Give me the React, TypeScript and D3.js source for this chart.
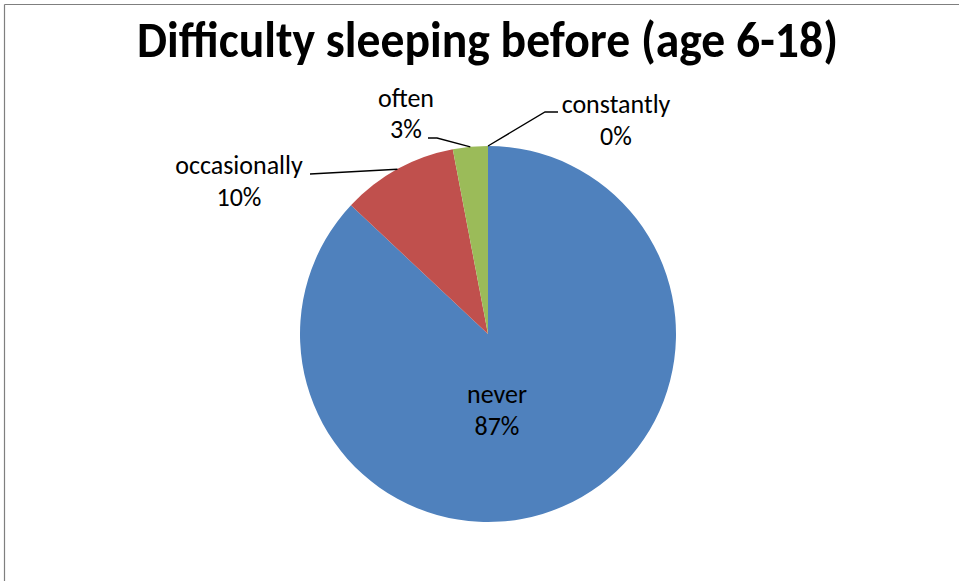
import React from "react";
import * as d3 from "d3";

const categories = ["never", "occasionally", "often", "constantly"];
const values = [87, 10, 3, 0];
const percentLabels = ["87%", "10%", "3%", "0%"];
const colors = ["#4F81BD", "#C0504D", "#9BBB59", "#8064A2"];

const W = 959;
const H = 581;
const cx = 488;
const cy = 334;
const R = 188;

export default function App() {
  const pie = d3.pie<number>().sort(null).value((d) => d);
  const arcs = pie(values);
  const arcGen = d3.arc<d3.PieArcDatum<number>>().innerRadius(0).outerRadius(R);
  const font = "Carlito, Calibri, 'Open Sans', 'Liberation Sans', sans-serif";

  const edge = (a: d3.PieArcDatum<number>) => {
    const m = (a.startAngle + a.endAngle) / 2;
    return [cx + R * Math.sin(m), cy - R * Math.cos(m)];
  };

  const leaders: Record<number, number[][]> = {
    1: [[310, 174]],
    2: [[428, 138], [437, 138]],
    3: [[558, 112], [545, 112]],
  };
  const labelPos: Record<number, { x: number; y: number; dy: number }> = {
    0: { x: 497, y: 403, dy: 32 },
    1: { x: 239, y: 174, dy: 32 },
    2: { x: 406, y: 107, dy: 31 },
    3: { x: 616, y: 113, dy: 32 },
  };

  return (
    <div style={{ position: "absolute", left: 0, top: 0 }}>
      <svg width={W} height={H} style={{ display: "block", background: "#fff" }}>
        <line x1={4.5} y1={4.5} x2={W} y2={4.5} stroke="#7f7f7f" strokeWidth={1.2} />
        <line x1={4.5} y1={4.5} x2={4.5} y2={H} stroke="#7f7f7f" strokeWidth={1.2} />
        <text
          x={487.5}
          y={57}
          textAnchor="middle"
          fontFamily={font}
          fontWeight="bold"
          fontSize={50}
          textLength={701}
          lengthAdjust="spacingAndGlyphs"
          fill="#000"
        >
          Difficulty sleeping before (age 6-18)
        </text>
        <g transform={`translate(${cx},${cy})`}>
          {arcs.map((a, i) => (
            <path key={i} d={arcGen(a) || ""} fill={colors[i]} />
          ))}
        </g>
        {arcs.map((a, i) => {
          const pts = leaders[i];
          if (!pts) return null;
          const e = edge(a);
          const line = d3.line()([...pts, e] as [number, number][]);
          return <path key={"l" + i} d={line || ""} fill="none" stroke="#000" strokeWidth={1.3} />;
        })}
        {categories.map((c, i) => {
          const p = labelPos[i];
          return (
            <text key={"t" + i} x={p.x} y={p.y} textAnchor="middle" fontFamily={font} fontSize={26} fill="#000">
              <tspan x={p.x}>{c}</tspan>
              <tspan x={p.x} dy={p.dy}>{percentLabels[i]}</tspan>
            </text>
          );
        })}
      </svg>
    </div>
  );
}
